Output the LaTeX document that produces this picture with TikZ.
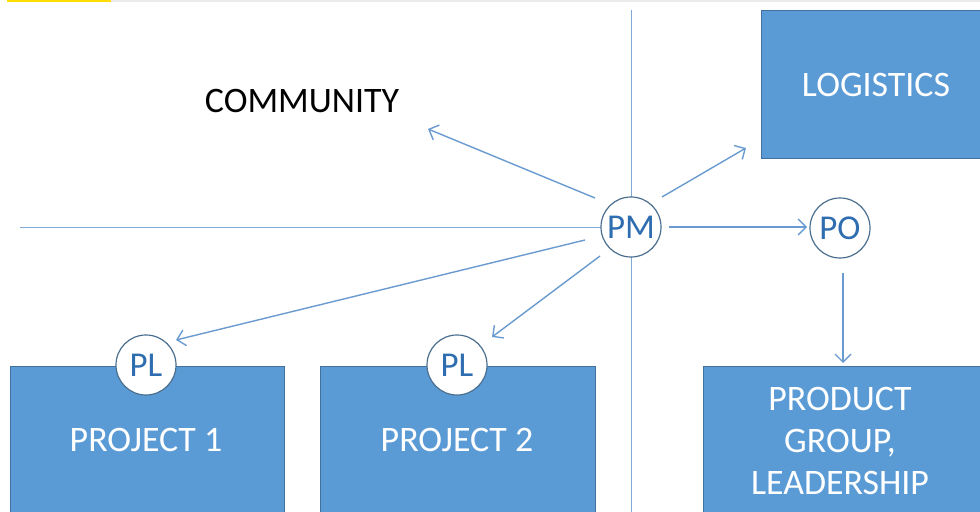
\documentclass[tikz,border=0pt]{standalone}
\usepackage{fontspec}
\setmainfont{Carlito}
\usetikzlibrary{arrows.meta}
\definecolor{boxfill}{HTML}{5B9BD5}
\definecolor{boxedge}{HTML}{41719C}
\definecolor{arrowc}{HTML}{6A9BD0}
\definecolor{axisc}{HTML}{7FAAD6}
\definecolor{circtext}{HTML}{2E6DB0}
\definecolor{circedge}{HTML}{4A6F8F}
\tikzset{
  bluebox/.style={draw=boxedge, line width=1pt, fill=boxfill},
  boxtext/.style={text=white, font=\fontsize{36}{42}\selectfont, align=center},
  rolecirc/.style={circle, draw=circedge, line width=1.2pt, fill=white, minimum size=60bp, inner sep=0pt, text=circtext, font=\fontsize{35}{40}\selectfont},
  conn/.style={draw=arrowc, line width=1.4pt, -{Straight Barb[length=8bp,width=16bp,line width=1.4pt]}},
  axis/.style={draw=axisc, line width=0.8pt}
}
\begin{document}
\begin{tikzpicture}[x=1bp,y=-1bp]
\useasboundingbox (0,0) rectangle (980,512);
\clip (0,0) rectangle (980,512);
\fill[white] (0,0) rectangle (980,512);
% top strip
\fill[yellow!80!orange] (7,0) rectangle (111,2);
\fill[black!8] (111,0) rectangle (980,2);
% axes
\coordinate (vt) at (631,10);
\coordinate (vb) at (631,512);
\coordinate (hl) at (20,227);
\coordinate (hr) at (631,227);
\draw[axis] (vt) -- (vb);
\draw[axis] (hl) -- (hr);
% boxes
\node[bluebox, minimum width=240bp, minimum height=148bp, anchor=north west] (log) at (761,10) {};
\node[boxtext] (logt) at (876,85) {LOGISTICS};
\node[bluebox, minimum width=274bp, minimum height=180bp, anchor=north west] (p1) at (10,366) {};
\node[boxtext] (p1t) at (146,440) {PROJECT 1};
\node[bluebox, minimum width=275bp, minimum height=180bp, anchor=north west] (p2) at (320,366) {};
\node[boxtext] (p2t) at (457,440) {PROJECT 2};
\node[bluebox, minimum width=290bp, minimum height=180bp, anchor=north west] (pg) at (703,366) {};
\node[boxtext, font=\fontsize{36}{42}\selectfont] (pgt) at (840,441) {PRODUCT\\GROUP,\\LEADERSHIP};
% community
\node[text=black, font=\fontsize{36}{42}\selectfont] (com) at (302,101) {COMMUNITY};
% circles
\node[rolecirc] (pm) at (631,227) {PM};
\node[rolecirc] (po) at (840,228) {PO};
\node[rolecirc] (pl1) at (146,365) {PL};
\node[rolecirc] (pl2) at (457,365) {PL};
% arrow endpoints
\coordinate (a1s) at (595,198); \coordinate (a1e) at (428,129);
\coordinate (a2s) at (662,197); \coordinate (a2e) at (746,148);
\coordinate (a3s) at (669,227); \coordinate (a3e) at (807,227);
\coordinate (a4s) at (585,240); \coordinate (a4e) at (176,340);
\coordinate (a5s) at (600,256); \coordinate (a5e) at (492,337);
\coordinate (a6s) at (843,273); \coordinate (a6e) at (843,363);
\draw[conn] (a1s) -- (a1e);
\draw[conn] (a2s) -- (a2e);
\draw[conn] (a3s) -- (a3e);
\draw[conn] (a4s) -- (a4e);
\draw[conn] (a5s) -- (a5e);
\draw[conn] (a6s) -- (a6e);
\end{tikzpicture}
\end{document}
